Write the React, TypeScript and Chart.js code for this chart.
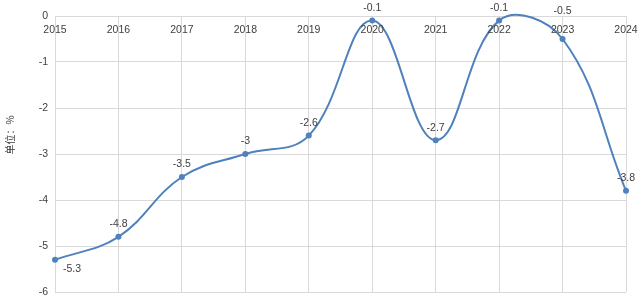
import React, { useEffect, useRef } from "react";
import { Chart, registerables } from "chart.js";

Chart.register(...registerables);

const years = ["2015", "2016", "2017", "2018", "2019", "2020", "2021", "2022", "2023", "2024"];
const values = [-5.3, -4.8, -3.5, -3, -2.6, -0.1, -2.7, -0.1, -0.5, -3.8];
const yTitle = "单位：%";

const LINE = "#4f81bd";
const TEXT = "#404040";
const GRID = "#d9d9d9";
const FONT = "'Liberation Sans', Arial, sans-serif";

const overlay = {
  id: "overlay",
  afterDatasetsDraw(chart: any) {
    const ctx = chart.ctx;
    const area = chart.chartArea;
    const xs = chart.scales.x;
    ctx.save();
    ctx.fillStyle = TEXT;
    ctx.font = `10.5px ${FONT}`;
    ctx.textBaseline = "middle";
    ctx.textAlign = "center";
    years.forEach((y, i) => {
      ctx.fillText(y, xs.getPixelForValue(i), area.top + 14.5);
    });
    const meta = chart.getDatasetMeta(0);
    meta.data.forEach((pt: any, i: number) => {
      const label = String(values[i]);
      if (i === 0) {
        ctx.textAlign = "left";
        ctx.fillText(label, pt.x + 8, pt.y + 9);
      } else if (i === 8) {
        ctx.textAlign = "center";
        ctx.fillText(label, pt.x, pt.y - 27.5);
      } else {
        ctx.textAlign = "center";
        ctx.fillText(label, pt.x, pt.y - 12.5);
      }
    });
    ctx.translate(10, 135);
    ctx.rotate(-Math.PI / 2);
    ctx.textAlign = "center";
    ctx.font = `10px 'Noto Sans CJK SC', sans-serif`;
    ctx.fillText(yTitle, 0, 0);
    ctx.restore();
  },
};

export default function App() {
  const ref = useRef<HTMLCanvasElement | null>(null);
  useEffect(() => {
    if (!ref.current) return;
    const chart = new Chart(ref.current, {
      type: "line",
      data: {
        labels: years,
        datasets: [
          {
            data: values,
            borderColor: LINE,
            backgroundColor: LINE,
            borderWidth: 2,
            pointRadius: 3,
            pointHoverRadius: 3,
            pointBorderWidth: 0,
            pointBackgroundColor: LINE,
            pointBorderColor: LINE,
            tension: 0.4,
            capBezierPoints: false,
            clip: false as any,
          } as any,
        ],
      },
      options: {
        responsive: true,
        maintainAspectRatio: false,
        animation: false,
        layout: { padding: { left: 0, right: 16, top: 16, bottom: 15 } },
        plugins: { legend: { display: false }, tooltip: { enabled: false } },
        scales: {
          x: {
            ticks: { display: false },
            grid: { color: GRID, drawTicks: false, lineWidth: 1 },
            border: { display: false },
          },
          y: {
            min: -6,
            max: 0,
            ticks: {
              stepSize: 1,
              padding: 7,
              color: TEXT,
              font: { family: FONT, size: 10.5 },
            },
            grid: { color: GRID, drawTicks: false, lineWidth: 1 },
            border: { display: false },
            afterFit(scale: any) {
              scale.width = 55;
            },
          },
        },
      },
      plugins: [overlay],
    });
    return () => chart.destroy();
  }, []);
  return (
    <div style={{ position: "absolute", left: 0, top: 0, width: 642, height: 307, background: "#fff" }}>
      <canvas ref={ref} />
    </div>
  );
}
